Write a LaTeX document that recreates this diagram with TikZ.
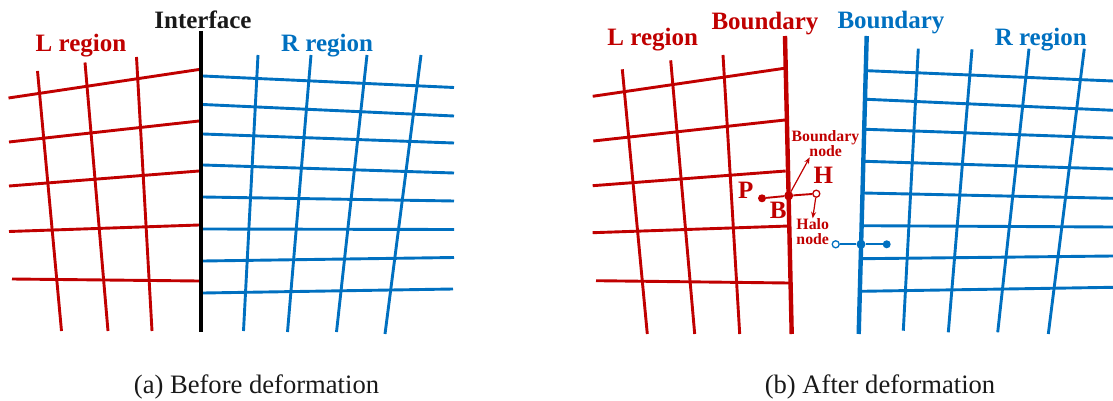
\documentclass[tikz,border=0pt]{standalone}
\usepackage{fontspec}
\setmainfont{Liberation Serif}
\usetikzlibrary{arrows.meta}
\definecolor{lred}{HTML}{C00000}
\definecolor{rblue}{HTML}{0070C0}
\tikzset{
  x=1pt,y=-1pt,
  redmesh/.style={draw=lred,line width=2.9pt},
  bluemesh/.style={draw=rblue,line width=2.9pt},
  iface/.style={draw=black,line width=4.6pt},
  redbound/.style={draw=lred,line width=4.4pt},
  bluebound/.style={draw=rblue,line width=4.4pt},
  biglabel/.style={font=\fontsize{25}{26}\selectfont\bfseries,anchor=base,inner sep=0pt},
  smalllabel/.style={font=\fontsize{15.8}{17}\selectfont\bfseries,anchor=base,inner sep=0pt,text=lred},
  caption/.style={font=\fontsize{26.6}{28}\selectfont,anchor=base,inner sep=0pt,text=black!90},
  solidnode/.style 2 args={circle,inner sep=0pt,minimum size=#1,fill=#2,draw=none},
  opennode/.style={circle,inner sep=0pt,minimum size=7pt,fill=white,draw=#1,line width=1.3pt},
  thinlink/.style={draw=#1,line width=1.9pt},
  callout/.style={draw=lred,line width=1.2pt,-{Stealth[length=6.5pt,width=5pt]}}
}
\begin{document}
\begin{tikzpicture}
\useasboundingbox (0,0) rectangle (1113,401);
% ---- panel (a) ----
\foreach \a/\b/\c/\d in {8.5/98/199/69.5,9/142/199/121,9/186/199/171,9/231.5/199/225,12/279/199/281,
  37.5/71/61.5/331,85/62.5/108/331,136.5/57/152/331}
  \draw[redmesh] (\a,\b) -- (\c,\d);
\foreach \a/\b/\c/\d in {203/76/454/87.5,203/104.5/454/116,203/134/454/143,203/165/454/173,203/197/454/201,203/229/454/229.5,203/261/454/257.5,203/293/453/289,
  258/55/243.5/331,311/55/287.5/332,367/55/336.5/332,421/55/385/334}
  \draw[bluemesh] (\a,\b) -- (\c,\d);
\draw[iface] (201,31) -- (201,332);
\node[biglabel,text=black!90] (ifacelabel) at (203,29) {Interface};
\node[biglabel,text=lred] (lregiona) at (81,51.7) {L region};
\node[biglabel,text=rblue] (rregiona) at (327,51.7) {R region};
\node[caption] (capa) at (256.5,393) {(a) Before deformation};
% ---- panel (b) ----
\foreach \a/\b/\c/\d in {592.7/96.3/784.3/68.3,593.3/141/785/120,592.7/185.7/785.7/171,592.7/232.7/789/226,596/280.7/789/283,
  622.3/69.3/647.3/334,670.7/60.3/694.7/334,723/55/739.7/334}
  \draw[redmesh] (\a,\b) -- (\c,\d);
\draw[redbound] (785,36) -- (791.7,334);
\foreach \a/\b/\c/\d in {867/70.7/1113/81,866.7/99.3/1113/110.3,866/129.3/1113/138,864.7/161.3/1113/169,863.3/193/1113/198.3,862/225.7/1113/227,861.3/258.7/1113/256,860.7/291.3/1113/287.3,
  918.3/48.7/903.3/330.7,972/49.3/948.3/332.3,1029/48.7/997.7/332.3,1084.3/48.7/1048.3/334}
  \draw[bluemesh] (\a,\b) -- (\c,\d);
\draw[bluebound] (866.7,36) -- (858.7,334);
\node[biglabel,text=lred] (lregionb) at (652.7,45.3) {L region};
\node[biglabel,text=lred] (boundl) at (765,29.3) {Boundary};
\node[biglabel,text=rblue] (boundr) at (891,29) {Boundary};
\node[biglabel,text=rblue] (rregionb) at (1040.7,45.3) {R region};
\node[caption] (capb) at (880,393) {(b) After deformation};
% stencil, red
\node[solidnode={8pt}{lred}] (P) at (762,198.3) {};
\node[solidnode={9pt}{lred}] (B) at (788.7,195.7) {};
\node[opennode=lred] (H) at (816.3,193.7) {};
\draw[thinlink=lred] (P) -- (B);
\draw[thinlink=lred] (B) -- (H);
\node[biglabel,text=lred] (Plabel) at (745.7,198.3) {P};
\node[biglabel,text=lred] (Blabel) at (778.3,218.3) {B};
\node[biglabel,text=lred] (Hlabel) at (823.3,183.7) {H};
\node[smalllabel] (bnode1) at (825.5,141.3) {Boundary};
\node[smalllabel] (bnode2) at (825.7,156) {node};
\node[smalllabel] (hnode1) at (812.7,229) {Halo};
\node[smalllabel] (hnode2) at (812.7,244) {node};
\coordinate (btip) at (809.7,157.3);
\coordinate (htip) at (812.7,218.3);
\draw[callout] (B) -- (btip);
\draw[callout] (H) -- (htip);
% stencil, blue
\node[opennode=rblue] (Hb) at (835.7,244.3) {};
\node[solidnode={9pt}{rblue}] (Bb) at (861,244.3) {};
\node[solidnode={8pt}{rblue}] (Pb) at (886.7,244.3) {};
\draw[thinlink=rblue] (Hb) -- (Bb);
\draw[thinlink=rblue] (Bb) -- (Pb);
\end{tikzpicture}
\end{document}
